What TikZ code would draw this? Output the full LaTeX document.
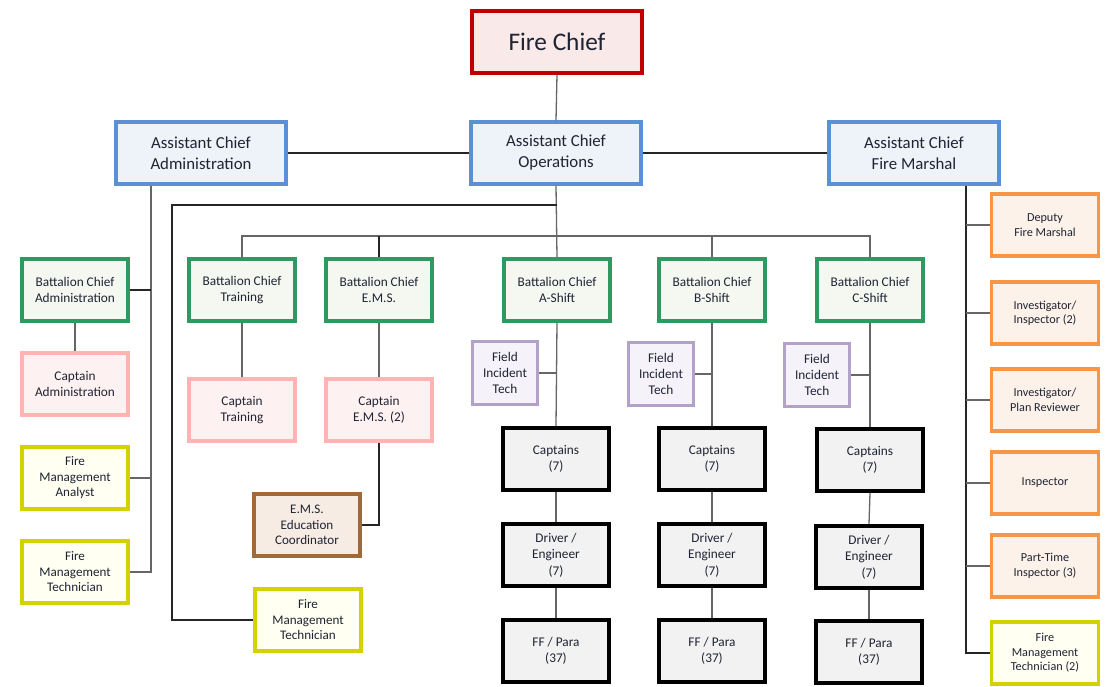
\documentclass[tikz,border=0pt]{standalone}
\usepackage{fontspec}
\setmainfont{Carlito}
\definecolor{cRed}{HTML}{C00000}\definecolor{fRed}{HTML}{F9E9E9}
\definecolor{cBlue}{HTML}{5B8FD6}\definecolor{fBlue}{HTML}{EEF3F9}
\definecolor{cGreen}{HTML}{2E9A62}\definecolor{fGreen}{HTML}{F4F8F1}
\definecolor{cPink}{HTML}{FFB3B3}\definecolor{fPink}{HTML}{FEF1F1}
\definecolor{cYel}{HTML}{D4D100}\definecolor{fYel}{HTML}{FFFFF2}
\definecolor{cBrown}{HTML}{A0693A}\definecolor{fBrown}{HTML}{F6ECE4}
\definecolor{cPurp}{HTML}{B3A2C7}\definecolor{fPurp}{HTML}{F5F2F9}
\definecolor{fGray}{HTML}{F2F2F2}
\definecolor{cOr}{HTML}{F79646}\definecolor{fOr}{HTML}{FDF2EA}
\definecolor{txt}{HTML}{1F2433}
\tikzset{
  box/.style={draw, line width=3.5pt, align=center, inner sep=0pt, text=txt,
    minimum width=106pt, minimum height=62pt, font=\fontsize{13.3}{16}\selectfont},
  redbox/.style={box, draw=cRed, fill=fRed, minimum width=170pt, font=\fontsize{25.3}{28}\selectfont},
  bluebox/.style={box, draw=cBlue, fill=fBlue, minimum width=170pt, font=\fontsize{16.8}{21}\selectfont},
  greenbox/.style={box, draw=cGreen, fill=fGreen},
  pinkbox/.style={box, draw=cPink, fill=fPink},
  yelbox/.style={box, draw=cYel, fill=fYel, font=\fontsize{13.1}{15.5}\selectfont},
  brownbox/.style={box, draw=cBrown, fill=fBrown, font=\fontsize{13.1}{15.5}\selectfont},
  purpbox/.style={box, draw=cPurp, fill=fPurp, minimum width=65pt, minimum height=63pt, font=\fontsize{13.3}{16}\selectfont},
  blkbox/.style={box, draw=black, line width=4pt, fill=fGray, minimum width=106pt, font=\fontsize{13.3}{16.5}\selectfont},
  orbox/.style={box, draw=cOr, fill=fOr, minimum width=107pt, font=\fontsize{12.2}{14.5}\selectfont},
  yelsm/.style={box, draw=cYel, fill=fYel, minimum width=107pt, font=\fontsize{12.2}{14.5}\selectfont},
  conn/.style={draw=black!60, line width=1.3pt},
  connk/.style={draw=black!85, line width=1.2pt}
}
\begin{document}
\begin{tikzpicture}[x=1pt,y=-1pt]
\useasboundingbox[fill=white] (0,0) rectangle (1109,687);
% top
\node[redbox] (fc) at (557,42) {Fire Chief};
\node[bluebox] (aco) at (556,153) {Assistant Chief\\Operations};
\node[bluebox] (aca) at (201,153) {Assistant Chief\\Administration};
\node[bluebox] (acm) at (914,153) {Assistant Chief\\Fire Marshal};
% admin column
\node[greenbox] (bcad) at (75,290) {Battalion Chief\\Administration};
\node[pinkbox] (capad) at (75,384) {Captain\\Administration};
\node[yelbox] (fma) at (75,478) {Fire\\Management\\Analyst};
\node[yelbox] (fmt1) at (75,572) {Fire\\Management\\Technician};
% operations
\node[greenbox] (bct) at (242,290) {Battalion Chief\\Training};
\node[greenbox] (bce) at (379,290) {Battalion Chief\\E.M.S.};
\node[greenbox] (bca) at (557,290) {Battalion Chief\\A-Shift};
\node[greenbox] (bcb) at (712,290) {Battalion Chief\\B-Shift};
\node[greenbox] (bcc) at (870,290) {Battalion Chief\\C-Shift};
\node[pinkbox] (capt) at (242,410) {Captain\\Training};
\node[pinkbox] (cape) at (379,410) {Captain\\E.M.S. (2)};
\node[brownbox] (emsc) at (307,525) {E.M.S.\\Education\\Coordinator};
\node[yelbox] (fmt2) at (308,620) {Fire\\Management\\Technician};
% shifts
\node[purpbox] (fita) at (505,373) {Field\\Incident\\Tech};
\node[purpbox] (fitb) at (661,374) {Field\\Incident\\Tech};
\node[purpbox] (fitc) at (817,375) {Field\\Incident\\Tech};
\node[blkbox] (capa) at (556,459) {Captains\\(7)};
\node[blkbox] (capb) at (712,459) {Captains\\(7)};
\node[blkbox] (capc) at (870,460) {Captains\\(7)};
\node[blkbox] (drva) at (556,555) {Driver /\\Engineer\\(7)};
\node[blkbox] (drvb) at (712,555) {Driver /\\Engineer\\(7)};
\node[blkbox] (drvc) at (869,557) {Driver /\\Engineer\\(7)};
\node[blkbox] (ffa) at (556,651) {FF / Para\\(37)};
\node[blkbox] (ffb) at (712,651) {FF / Para\\(37)};
\node[blkbox] (ffc) at (869,652) {FF / Para\\(37)};
% fire marshal column
\node[orbox] (dfm) at (1045,225) {Deputy\\Fire Marshal};
\node[orbox] (ii) at (1045,313) {Investigator/\\Inspector (2)};
\node[orbox] (ipr) at (1045,400) {Investigator/\\Plan Reviewer};
\node[orbox] (insp) at (1045,483) {Inspector};
\node[orbox] (pti) at (1045,566) {Part-Time\\Inspector (3)};
\node[yelsm] (fmt3) at (1045,653) {Fire\\Management\\Technician (2)};
% junction coordinates
\coordinate (adm) at (151,186);
\coordinate (opj) at (557,205);
\coordinate (opl) at (172,205);
\coordinate (bar) at (557,236);
\coordinate (fm) at (966,186);
% connectors
\draw[conn] (fc.south) -- (aco.north);
\draw[connk] (aca.east) -- (aco.west);
\draw[connk] (aco.east) -- (acm.west);
% admin
\draw[conn] (adm) -- (adm |- fmt1.east) -- (fmt1.east);
\draw[connk] (bcad.east) -- (bcad.east -| adm);
\draw[conn] (fma.east) -- (fma.east -| adm);
\draw[conn] (bcad.south) -- (capad.north);
% operations
\draw[conn] (aco.south) -- (bca.north);
\draw[connk] (opj) -- (opl) |- (fmt2.west);
\draw[conn] (bct.north) -- (bct.north |- bar) -- (bcc.north |- bar) -- (bcc.north);
\draw[connk] (bce.north) -- (bce.north |- bar);
\draw[conn] (bcb.north) -- (bcb.north |- bar);
\draw[conn] (bct.south) -- (capt.north);
\draw[conn] (bce.south) -- (cape.north);
\draw[connk] (cape.south) |- (emsc.east);
% shifts
\foreach \s in {a,b,c}{
  \draw[conn] (bc\s.south) -- (cap\s.north);
  \draw[conn] (fit\s.east) -- (fit\s.east -| bc\s.south);
  \draw[conn] (cap\s.south) -- (drv\s.north);
  \draw[conn] (drv\s.south) -- (ff\s.north);
}
% fire marshal
\draw[connk] (fm) -- (fm |- fmt3.west) -- (fmt3.west);
\foreach \n in {dfm,ii,ipr,insp,pti}{
  \draw[conn] (\n.west) -- (\n.west -| fm);
}
\end{tikzpicture}
\end{document}
